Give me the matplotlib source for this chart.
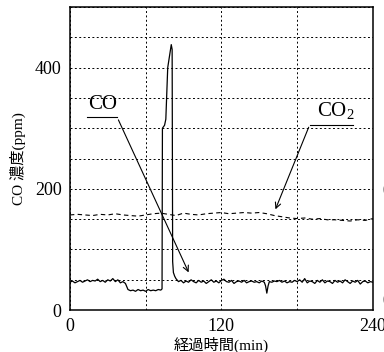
import matplotlib
matplotlib.use("Agg")
import matplotlib.pyplot as plt

plt.rcParams['font.family'] = ['Liberation Serif', 'Noto Sans CJK JP', 'DejaVu Sans']

# CO concentration (ppm) vs elapsed time (min)
co_t = [0, 2, 4, 6, 8, 10, 12, 14, 16, 18, 20, 22, 24, 26, 28, 30, 32, 34, 36, 38, 40, 42, 44,
        46, 48, 50, 52, 54, 56, 58, 60, 62, 64, 66, 68, 70, 72,
        73, 73.3, 75, 76, 77.5, 79, 80.3, 81, 81.4, 82, 83, 84,
        86, 88, 90, 92, 94, 96, 98, 100, 102, 104, 106, 108, 110, 112, 114, 116, 118, 120,
        122, 124, 126, 128, 130, 132, 134, 136, 138, 140, 142, 144, 146, 148, 150, 152, 154,
        155, 156, 157, 158, 160, 162, 164, 166, 168, 170, 172, 174, 176, 178, 180,
        182, 184, 186, 188, 190, 192, 194, 196, 198, 200, 202, 204, 206, 208, 210,
        212, 214, 216, 218, 220, 222, 224, 226, 228, 230, 232, 234, 236, 238, 240]
co_v = [46, 48, 45, 47, 49, 46, 48, 50, 47, 49, 48, 51, 47, 49, 46, 50, 48, 52, 47, 50, 45, 47, 44,
        34, 32, 33, 31, 34, 32, 33, 31, 34, 32, 33, 32, 34, 33,
        35, 300, 305, 315, 400, 420, 438, 430, 80, 62, 56, 52,
        47, 49, 45, 48, 46, 50, 47, 45, 49, 46, 48, 44, 47, 50, 46, 48, 45, 49,
        51, 47, 46, 49, 44, 47, 48, 46, 49, 45, 47, 48, 46, 47, 45, 48, 46,
        40, 28, 40, 47, 46, 48, 47, 49, 46, 48, 45, 47, 46, 49, 47,
        50, 46, 52, 45, 48, 47, 44, 49, 46, 50, 45, 48, 47, 44, 49,
        46, 48, 45, 50, 47, 44, 48, 46, 49, 43, 47, 48, 45, 47, 46]

# CO2 trace (drawn on the same scale, dashed)
co2_t = [0, 6, 12, 18, 24, 30, 36, 42, 48, 54, 60, 66, 72, 78, 84, 90, 96, 102, 108, 114,
         120, 126, 132, 138, 144, 150, 156, 162, 168, 174, 180, 186, 192, 198, 204, 210,
         216, 222, 228, 234, 240]
co2_v = [157, 158, 157, 156, 158, 157, 159, 157, 156, 155, 157, 159, 160, 158, 156, 160, 158, 157, 159, 160,
         161, 159, 160, 161, 160, 161, 159, 156, 154, 152, 151, 152, 150, 151, 149, 149,
         148, 147, 149, 148, 151]

x_major = [0, 120, 240]
x_minor = [60, 180]
y_major = [0, 200, 400]
y_minor = [50, 100, 150, 250, 300, 350, 450, 500]

fig = plt.figure(figsize=(3.84, 3.52), dpi=100)
ax = fig.add_axes([0.182, 0.119, 0.789, 0.861])

ax.plot(co_t, co_v, color='black', lw=0.9)
ax.plot(co2_t, co2_v, color='black', lw=0.8, ls=(0, (4, 3)))

ax.set_xlim(0, 240)
ax.set_ylim(0, 500)
ax.set_xticks(x_major)
ax.set_xticks(x_minor, minor=True)
ax.set_yticks(y_major)
ax.set_yticks(y_minor, minor=True)
ax.grid(True, which='both', color='black', lw=0.7, ls=(0, (2, 2.5)))
ax.tick_params(which='both', length=0, labelsize=13, pad=6)
for s in ax.spines.values():
    s.set_linewidth(1.1)

ax.set_xlabel('経過時間(min)', fontsize=11, labelpad=1)
ax.set_ylabel('CO 濃度(ppm)', fontsize=11, labelpad=6)

# CO label with leader arrow
ax.text(26, 323, 'CO', fontsize=15, ha='center', va='bottom')
ax.plot([13.5, 37.5], [318, 318], color='black', lw=0.8)
ax.annotate('', xy=(95, 58), xytext=(37.5, 318),
            arrowprops=dict(arrowstyle='->', color='black', lw=0.8))

# CO2 label with leader arrow
ax.text(211, 310, r'CO$_\mathregular{2}$', fontsize=15, ha='center', va='bottom')
ax.plot([190, 224], [306, 306], color='black', lw=0.8)
ax.annotate('', xy=(162, 162), xytext=(190, 306),
            arrowprops=dict(arrowstyle='->', color='black', lw=0.8))

# clipped right-axis labels
ax.text(1.03, 0.39, '0', transform=ax.transAxes, fontsize=13, va='center', clip_on=False)
ax.text(1.03, 0.03, '0', transform=ax.transAxes, fontsize=13, va='center', clip_on=False)

fig.savefig('out.png', dpi=100)
